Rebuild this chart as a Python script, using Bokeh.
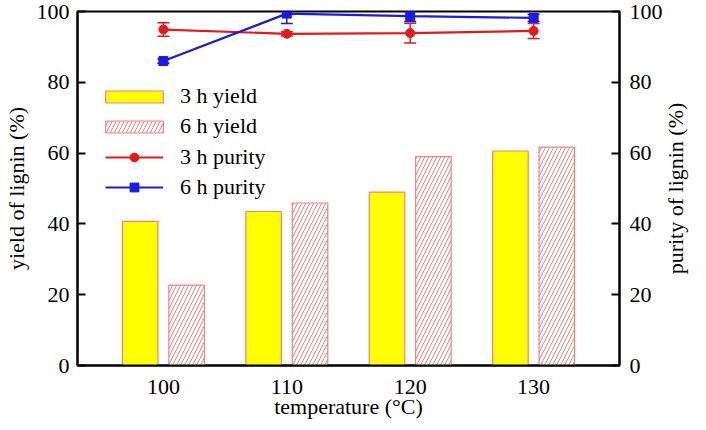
import math
from bokeh.plotting import figure
from bokeh.models import (Range1d, LinearAxis, FactorRange, Legend, LegendItem,
                          ColumnDataSource, Whisker, TeeHead, FixedTicker, Label)
from bokeh.transform import dodge
from bokeh.embed import file_html
from bokeh.resources import INLINE

temps = ["100", "110", "120", "130"]
yield_3h = [40.7, 43.5, 49.0, 60.6]
yield_6h = [22.7, 45.9, 59.0, 61.7]
purity_3h = [94.9, 93.7, 93.9, 94.5]
purity_3h_err = [1.9, 0.6, 2.8, 2.1]
purity_6h = [86.0, 99.4, 98.7, 98.2]
purity_6h_err = [0.6, 2.8, 1.5, 1.0]

FONT = "Liberation Serif"
FS = "22px"
RED = "#e41a1a"
BLUE = "#1a1ae0"
PINK = "#f08080"

src = ColumnDataSource(dict(
    t=temps, y3=yield_3h, y6=yield_6h,
    p3=purity_3h, p3u=[a + b for a, b in zip(purity_3h, purity_3h_err)],
    p3l=[a - b for a, b in zip(purity_3h, purity_3h_err)],
    p6=purity_6h, p6u=[a + b for a, b in zip(purity_6h, purity_6h_err)],
    p6l=[a - b for a, b in zip(purity_6h, purity_6h_err)],
))

p = figure(width=690, height=422, output_backend="svg", toolbar_location=None,
           x_range=FactorRange(factors=temps, range_padding=0.196,
                               range_padding_units="absolute"),
           y_range=Range1d(0, 100))
p.min_border_left = 72
p.min_border_right = 69
p.min_border_top = 11
p.min_border_bottom = 57
p.extra_y_ranges = {"right": Range1d(0, 100)}
p.grid.visible = False
p.outline_line_color = "black"
p.outline_line_width = 2
p.background_fill_color = "white"
p.border_fill_color = "white"

b3 = p.vbar(x=dodge("t", -0.188, range=p.x_range), top="y3", width=0.288,
            source=src, fill_color="#ffff00", line_color=PINK, line_width=1.2)
b6 = p.vbar(x=dodge("t", 0.188, range=p.x_range), top="y6", width=0.288,
            source=src, fill_color="white", line_color=PINK, line_width=1.2,
            hatch_pattern="/", hatch_color=PINK, hatch_scale=8, hatch_weight=1)

l3 = p.line(x="t", y="p3", source=src, y_range_name="right", line_color=RED, line_width=2.2)
s3 = p.scatter(x="t", y="p3", source=src, y_range_name="right", marker="circle",
               size=9, fill_color=RED, line_color=RED)
l6 = p.line(x="t", y="p6", source=src, y_range_name="right", line_color=BLUE, line_width=2.2)
s6 = p.scatter(x="t", y="p6", source=src, y_range_name="right", marker="square",
               size=9, fill_color=BLUE, line_color=BLUE)

for up, lo, col in (("p3u", "p3l", RED), ("p6u", "p6l", BLUE)):
    w = Whisker(base="t", upper=up, lower=lo, source=src, y_range_name="right",
                line_color=col, line_width=1.5,
                upper_head=TeeHead(size=12, line_color=col, line_width=1.5),
                lower_head=TeeHead(size=12, line_color=col, line_width=1.5))
    p.add_layout(w)

# axes
xa = p.xaxis[0]
xa.axis_label = "temperature (°C)"
xa.major_tick_line_color = None
xa.minor_tick_line_color = None
xa.major_label_standoff = 8
xa.axis_label_standoff = -3

ya = p.yaxis[0]
ya.axis_label = "yield of lignin (%)"
ya.ticker = FixedTicker(ticks=[0, 20, 40, 60, 80, 100])
ya.major_tick_in = 8
ya.major_tick_out = 0
ya.minor_tick_line_color = None
ya.major_label_standoff = 8
ya.axis_label_standoff = 5

ra = LinearAxis(y_range_name="right",
                ticker=FixedTicker(ticks=[0, 20, 40, 60, 80, 100]))
ra.major_tick_in = 8
ra.major_tick_out = 0
ra.minor_tick_line_color = None
ra.major_label_standoff = 10
p.add_layout(ra, "right")

for ax in (xa, ya, ra):
    ax.axis_line_width = 2
    ax.major_tick_line_width = 2
    ax.axis_line_color = "black"
    ax.major_label_text_font = FONT
    ax.major_label_text_font_size = FS
    ax.major_label_text_color = "black"
    ax.axis_label_text_font = FONT
    ax.axis_label_text_font_size = FS
    ax.axis_label_text_font_style = "normal"
    ax.axis_label_text_color = "black"

# right-hand axis title (reads bottom to top, like the left one)
p.add_layout(Label(x=10, y=177, x_units="screen", y_units="screen",
                   text="purity of lignin (%)", angle=math.pi / 2,
                   text_align="center", text_baseline="middle",
                   text_font=FONT, text_font_size=FS, text_color="black"), "right")

leg_bars = Legend(items=[LegendItem(label="3 h yield", renderers=[b3]),
                         LegendItem(label="6 h yield", renderers=[b6])],
                  location=(21, 226), glyph_width=72, glyph_height=15,
                  label_height=22, spacing=4, label_standoff=10)
leg_lines = Legend(items=[LegendItem(label="3 h purity", renderers=[l3, s3]),
                          LegendItem(label="6 h purity", renderers=[l6, s6])],
                   location=(28, 165), glyph_width=58, glyph_height=22,
                   label_height=22, spacing=4, label_standoff=17)
for lg in (leg_bars, leg_lines):
    lg.padding = 0
    lg.margin = 0
    lg.border_line_color = None
    lg.background_fill_alpha = 0
    lg.label_text_font = FONT
    lg.label_text_font_size = FS
    lg.label_text_color = "black"
    p.add_layout(lg, "center")

open("out.html", "w").write(file_html(p, INLINE))
